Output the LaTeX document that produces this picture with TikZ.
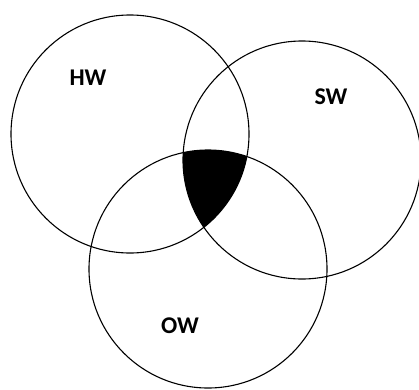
\documentclass[tikz,border=0pt]{standalone}
\usepackage{fontspec}
\setmainfont{Carlito}
\begin{document}
\begin{tikzpicture}[x=1pt,y=-1pt,
  setc/.style={circle,draw=black,line width=1.1pt,minimum size=238pt,inner sep=0pt},
  lbl/.style={font=\fontsize{24}{28}\selectfont\bfseries,text=black}]
\useasboundingbox (0,0) rectangle (419,389);
\begin{scope}
  \clip (130,134) circle (119);
  \clip (302,160) circle (119);
  \fill[black] (208,269) circle (119);
\end{scope}
\node[setc] (hw) at (130,134) {};
\node[setc] (sw) at (302,160) {};
\node[setc] (ow) at (208,269) {};
\node[lbl] (hwl) at (88,78) {HW};
\node[lbl] (swl) at (331,97) {SW};
\node[lbl] (owl) at (180,326) {OW};
\end{tikzpicture}
\end{document}
